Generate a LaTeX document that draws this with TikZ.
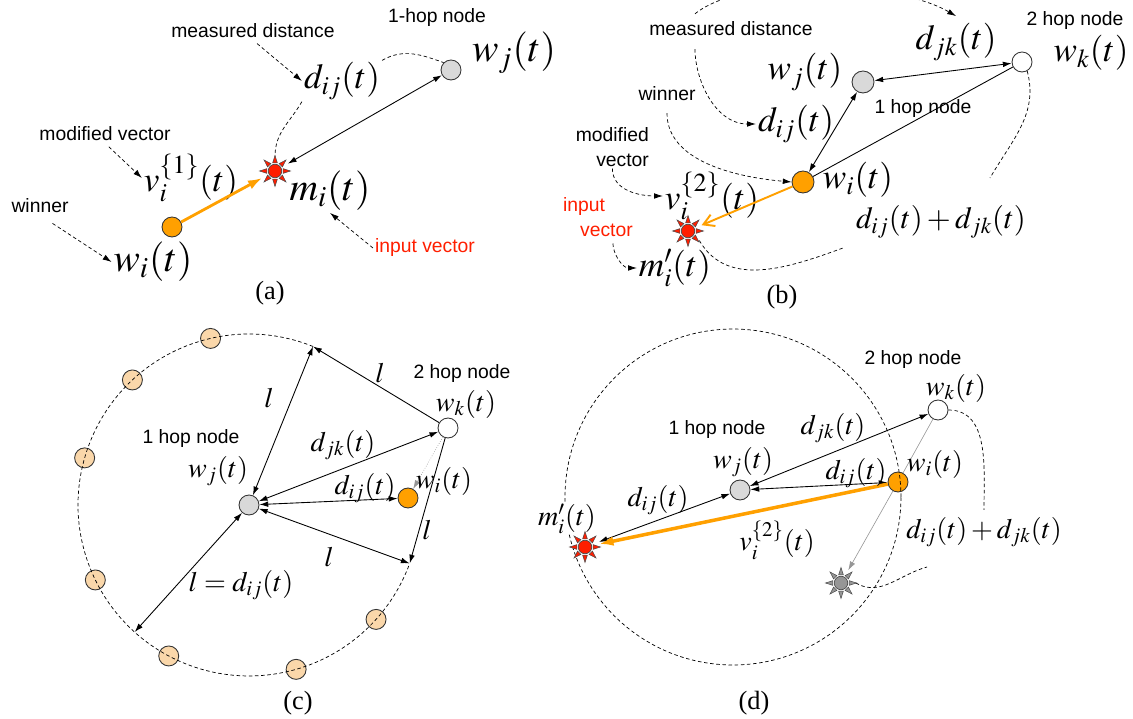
\documentclass[tikz,border=0pt]{standalone}
\usepackage{mathptmx}
\usepackage{fontspec}
\setmainfont{Liberation Serif}
\setsansfont{Liberation Sans}
\usetikzlibrary{arrows.meta}

\definecolor{hubgray}{RGB}{217,217,217}
\definecolor{winorange}{RGB}{255,160,0}
\definecolor{peach}{RGB}{250,215,170}
\definecolor{inred}{RGB}{255,30,0}
\definecolor{ghostgray}{RGB}{150,150,150}

\tikzset{
  unitnode/.style={circle,draw=black!80,line width=0.5pt,minimum size=0.4cm,inner sep=0pt},
  hop1/.style={unitnode,fill=hubgray},
  hop2/.style={unitnode,fill=white},
  winnode/.style={unitnode,fill=winorange},
  ringnode/.style={unitnode,fill=peach},
  spark/.style={circle,draw=black!70,line width=0.4pt,fill=#1,minimum size=0.27cm,inner sep=0pt,outer sep=0.16cm},
  pics/spikes/.style={code={
      \foreach \a in {0,45,...,315}
        \filldraw[fill=#1,draw=black!70,line width=0.3pt]
          (\a-16:0.17cm) -- (\a:0.31cm) -- (\a+16:0.17cm) -- cycle;}},
  note/.style={font=\fontsize{11}{14}\selectfont\sffamily,inner sep=1pt},
  wmath/.style={font=\fontsize{22.5}{26}\selectfont,inner sep=1pt},
  bigmath/.style={font=\fontsize{20}{24}\selectfont,inner sep=1pt},
  midmath/.style={font=\fontsize{16}{20}\selectfont,inner sep=1pt},
  panel/.style={font=\fontsize{15}{18}\selectfont},
  link/.style={line width=0.5pt,<->},
  ray/.style={line width=0.5pt,->},
  ghost/.style={draw=ghostgray,line width=0.35pt},
  pull/.style={draw=winorange,line width=#1,-{Latex[length=8pt,width=5.5pt]}},
  cue/.style={line width=0.4pt,dash pattern=on 2pt off 1.5pt,->},
  trail/.style={line width=0.4pt,dash pattern=on 2pt off 1.5pt}
}

\begin{document}
\begin{tikzpicture}[x=0.02cm,y=-0.02cm,>={Latex[length=5pt,width=3.2pt]}]
\useasboundingbox (0,0) rectangle (1133,719);
\clip (0,0) rectangle (1133,719);

% (a) winner pulled toward the input
\node[hop1] (wja) at (451,70) {};
\node[spark=inred] (ma) at (275,171) {};
\node[winnode] (wia) at (172,227) {};
\node[note] (hopa) at (437,18) {1-hop node};
\node[wmath] (wjla) at (514,53) {$w_j(t)$};
\node[note] (measa) at (253,31) {measured distance};
\node[bigmath] (dija) at (342,81) {$d_{ij}(t)$};
\node[wmath] (mla) at (330,191) {$m_i(t)$};
\node[bigmath] (vla) at (191,178) {$v_i^{\{1\}}(t)$};
\node[note] (modva) at (105,134) {modified vector};
\node[note] (wina) at (40,206) {winner};
\node[wmath] (wila) at (153,262) {$w_i(t)$};
\node[note,text=inred] (inpa) at (425,248) {input vector};
\node[panel] (capa) at (270,293) {(a)};
\draw[link] (wja) -- (ma);
\draw[pull=1.6pt] (wia) -- (ma);
\draw[cue,shorten <=3pt] (measa.south) -- (dija.west);
\draw[trail] (dija.north east) to[out=30,in=160] (wja.north west);
\draw[trail] (dija.south west) to[out=240,in=90] (ma.north);
\draw[cue,shorten <=3pt] (modva.south) -- (vla.west);
\draw[cue,shorten <=0.3cm] (wina.south) -- (wila.west);
\draw[cue] (inpa.west) -- (mla.south);
\pic at (ma) {spikes=inred};

% (b) two hop case
\node[hop1,minimum size=0.44cm] (wjb) at (863,82) {};
\node[hop2] (wkb) at (1022,62) {};
\node[winnode,minimum size=0.44cm] (wib) at (803,182) {};
\node[spark=inred] (mb) at (688,231) {};
\node[note] (measb) at (731,29) {measured distance};
\node[note] (hopkb) at (1075,21) {2 hop node};
\node[bigmath] (wklb) at (1091,53) {$w_k(t)$};
\node[bigmath] (djkb) at (956,42) {$d_{jk}(t)$};
\node[bigmath] (wjlb) at (805,72) {$w_j(t)$};
\node[note] (hopjb) at (923,109) {1 hop node};
\node[note] (winb) at (667,94) {winner};
\node[bigmath] (dijb) at (796,124) {$d_{ij}(t)$};
\node[note,align=right,anchor=east] (modvb) at (651,147) {modified\\vector};
\node[bigmath] (wilb) at (858,180) {$w_i(t)$};
\node[bigmath] (vlb) at (712,196) {$v_i^{\{2\}}(t)$};
\node[note,align=left,anchor=west,text=inred] (inpb) at (561,217) {input\\\hspace*{0.34cm}vector};
\node[bigmath] (mlb) at (675,268) {$m'_i(t)$};
\node[bigmath,font=\fontsize{17.5}{22}\selectfont] (sumb) at (941,222) {$d_{ij}(t)+d_{jk}(t)$};
\node[panel] (capb) at (782,297) {(b)};
\coordinate (tailb) at (843,248);
\coordinate (headb) at (990,178);
\draw[link] (wjb) -- (wkb);
\draw[link] (wjb) -- (wib);
\draw[line width=0.5pt] (wkb) -- (wib);
\draw[pull=1.1pt,-{Straight Barb[length=6pt,width=7pt]}] (wib) -- (mb);
\draw[cue] ([xshift=-0.72cm,yshift=0.12cm]measb.north) .. controls +(50,-40) and +(-60,-35) .. ([yshift=0.1cm]djkb.north);
\draw[cue,shorten <=0.22cm] ([xshift=-0.72cm]measb.south) to[out=-90,in=180] (dijb.west);
\draw[cue,shorten <=0.2cm] (winb.south) to[out=-90,in=175] (wib.west);
\draw[cue] (modvb.south) to[out=-90,in=180] (vlb.west);
\draw[cue,shorten <=0.1cm] ([xshift=0.3cm]inpb.south) to[out=-90,in=180] (mlb.west);
\draw[trail] (mb.-40) to[out=-60,in=200] (tailb);
\draw[trail] (wkb.-60) to[out=-75,in=60] (headb);
\pic at (mb) {spikes=inred};

% (c) ring of candidates at distance l
\node[hop1] (wjc) at (249,505) {};
\node[hop2] (wkc) at (448,428) {};
\node[winnode] (wic) at (408,498) {};
\foreach \a [count=\i] in {103,133,164,206,242,286,318}
  \node[ringnode] (ringc\i) at ([shift={(\a:3.42cm)}]wjc) {};
\coordinate (c1c) at ([shift={(68:3.42cm)}]wjc);
\coordinate (c2c) at ([shift={(-20:3.42cm)}]wjc);
\coordinate (c3c) at ([shift={(228:3.42cm)}]wjc);
\draw[trail] (c1c) arc[start angle=68,end angle=340,radius=3.42cm];
\draw[link] (wjc) -- (c1c);
\draw[ray] (wkc) -- (c1c);
\draw[link] (wjc) -- (wkc);
\draw[link] (wjc) -- (wic);
\draw[link] (wjc) -- (c2c);
\draw[ray] (wkc) -- (c2c);
\draw[link] (wjc) -- (c3c);
\draw[ghost,densely dotted,->] (wkc) -- (wic);
\node[note] (hopkc) at (462,374) {2 hop node};
\node[midmath] (wklc) at (466,404) {$w_k(t)$};
\node[note] (hopjc) at (191,439) {1 hop node};
\node[midmath] (wjlc) at (218,471) {$w_j(t)$};
\node[midmath] (wilc) at (444,481) {$w_i(t)$};
\node[midmath] (djkc) at (343,445) {$d_{jk}(t)$};
\node[midmath] (dijc) at (365,488) {$d_{ij}(t)$};
\node[midmath] (l1c) at (269,398) {$l$};
\node[midmath] (l2c) at (380,373) {$l$};
\node[midmath] (l3c) at (329,557) {$l$};
\node[midmath] (l4c) at (427,530) {$l$};
\node[midmath] (l5c) at (241,585) {$l=d_{ij}(t)$};
\node[panel] (capc) at (298,703) {(c)};

% (d) input placed on the circle around w_j
\node[hop1] (wjd) at (740,490) {};
\node[hop2] (wkd) at (938,410) {};
\node[winnode] (wid) at (898,482) {};
\node[spark=inred] (md) at (585,547) {};
\node[spark=ghostgray] (gd) at (841,583) {};
\coordinate (ctrd) at (733,497);
\coordinate (taild) at (927,567);
\draw[trail] (ctrd) circle[radius=3.36cm];
\draw[link] (wjd) -- (wkd);
\draw[link] (wjd) -- (wid);
\draw[link] (wjd) -- (md);
\draw[pull=2pt] (wid) -- (md);
\draw[ghost] (wkd) -- (wid);
\draw[ghost,->] (wid) -- (gd);
\node[note] (hopkd) at (913,360) {2 hop node};
\node[midmath] (wkld) at (956,388) {$w_k(t)$};
\node[note] (hopjd) at (717,430) {1 hop node};
\node[midmath] (djkd) at (833,428) {$d_{jk}(t)$};
\node[midmath] (wjld) at (743,462) {$w_j(t)$};
\node[midmath] (dijd) at (856,473) {$d_{ij}(t)$};
\node[midmath] (wild) at (935,464) {$w_i(t)$};
\node[midmath] (dij2d) at (658,500) {$d_{ij}(t)$};
\node[midmath,fill=white,inner sep=0pt] (mld) at (567,519) {$m'_i(t)$};
\node[midmath] (vld) at (777,540) {$v_i^{\{2\}}(t)$};
\node[midmath] (sumd) at (984,532) {$d_{ij}(t)+d_{jk}(t)$};
\node[panel] (capd) at (754,703) {(d)};
\draw[trail] (wkd.east) to[out=0,in=90] ([yshift=0.1cm]sumd.north);
\draw[trail] (gd.east) to[out=-30,in=195] (taild);
\pic at (md) {spikes=inred};
\pic at (gd) {spikes=ghostgray};
\end{tikzpicture}
\end{document}
